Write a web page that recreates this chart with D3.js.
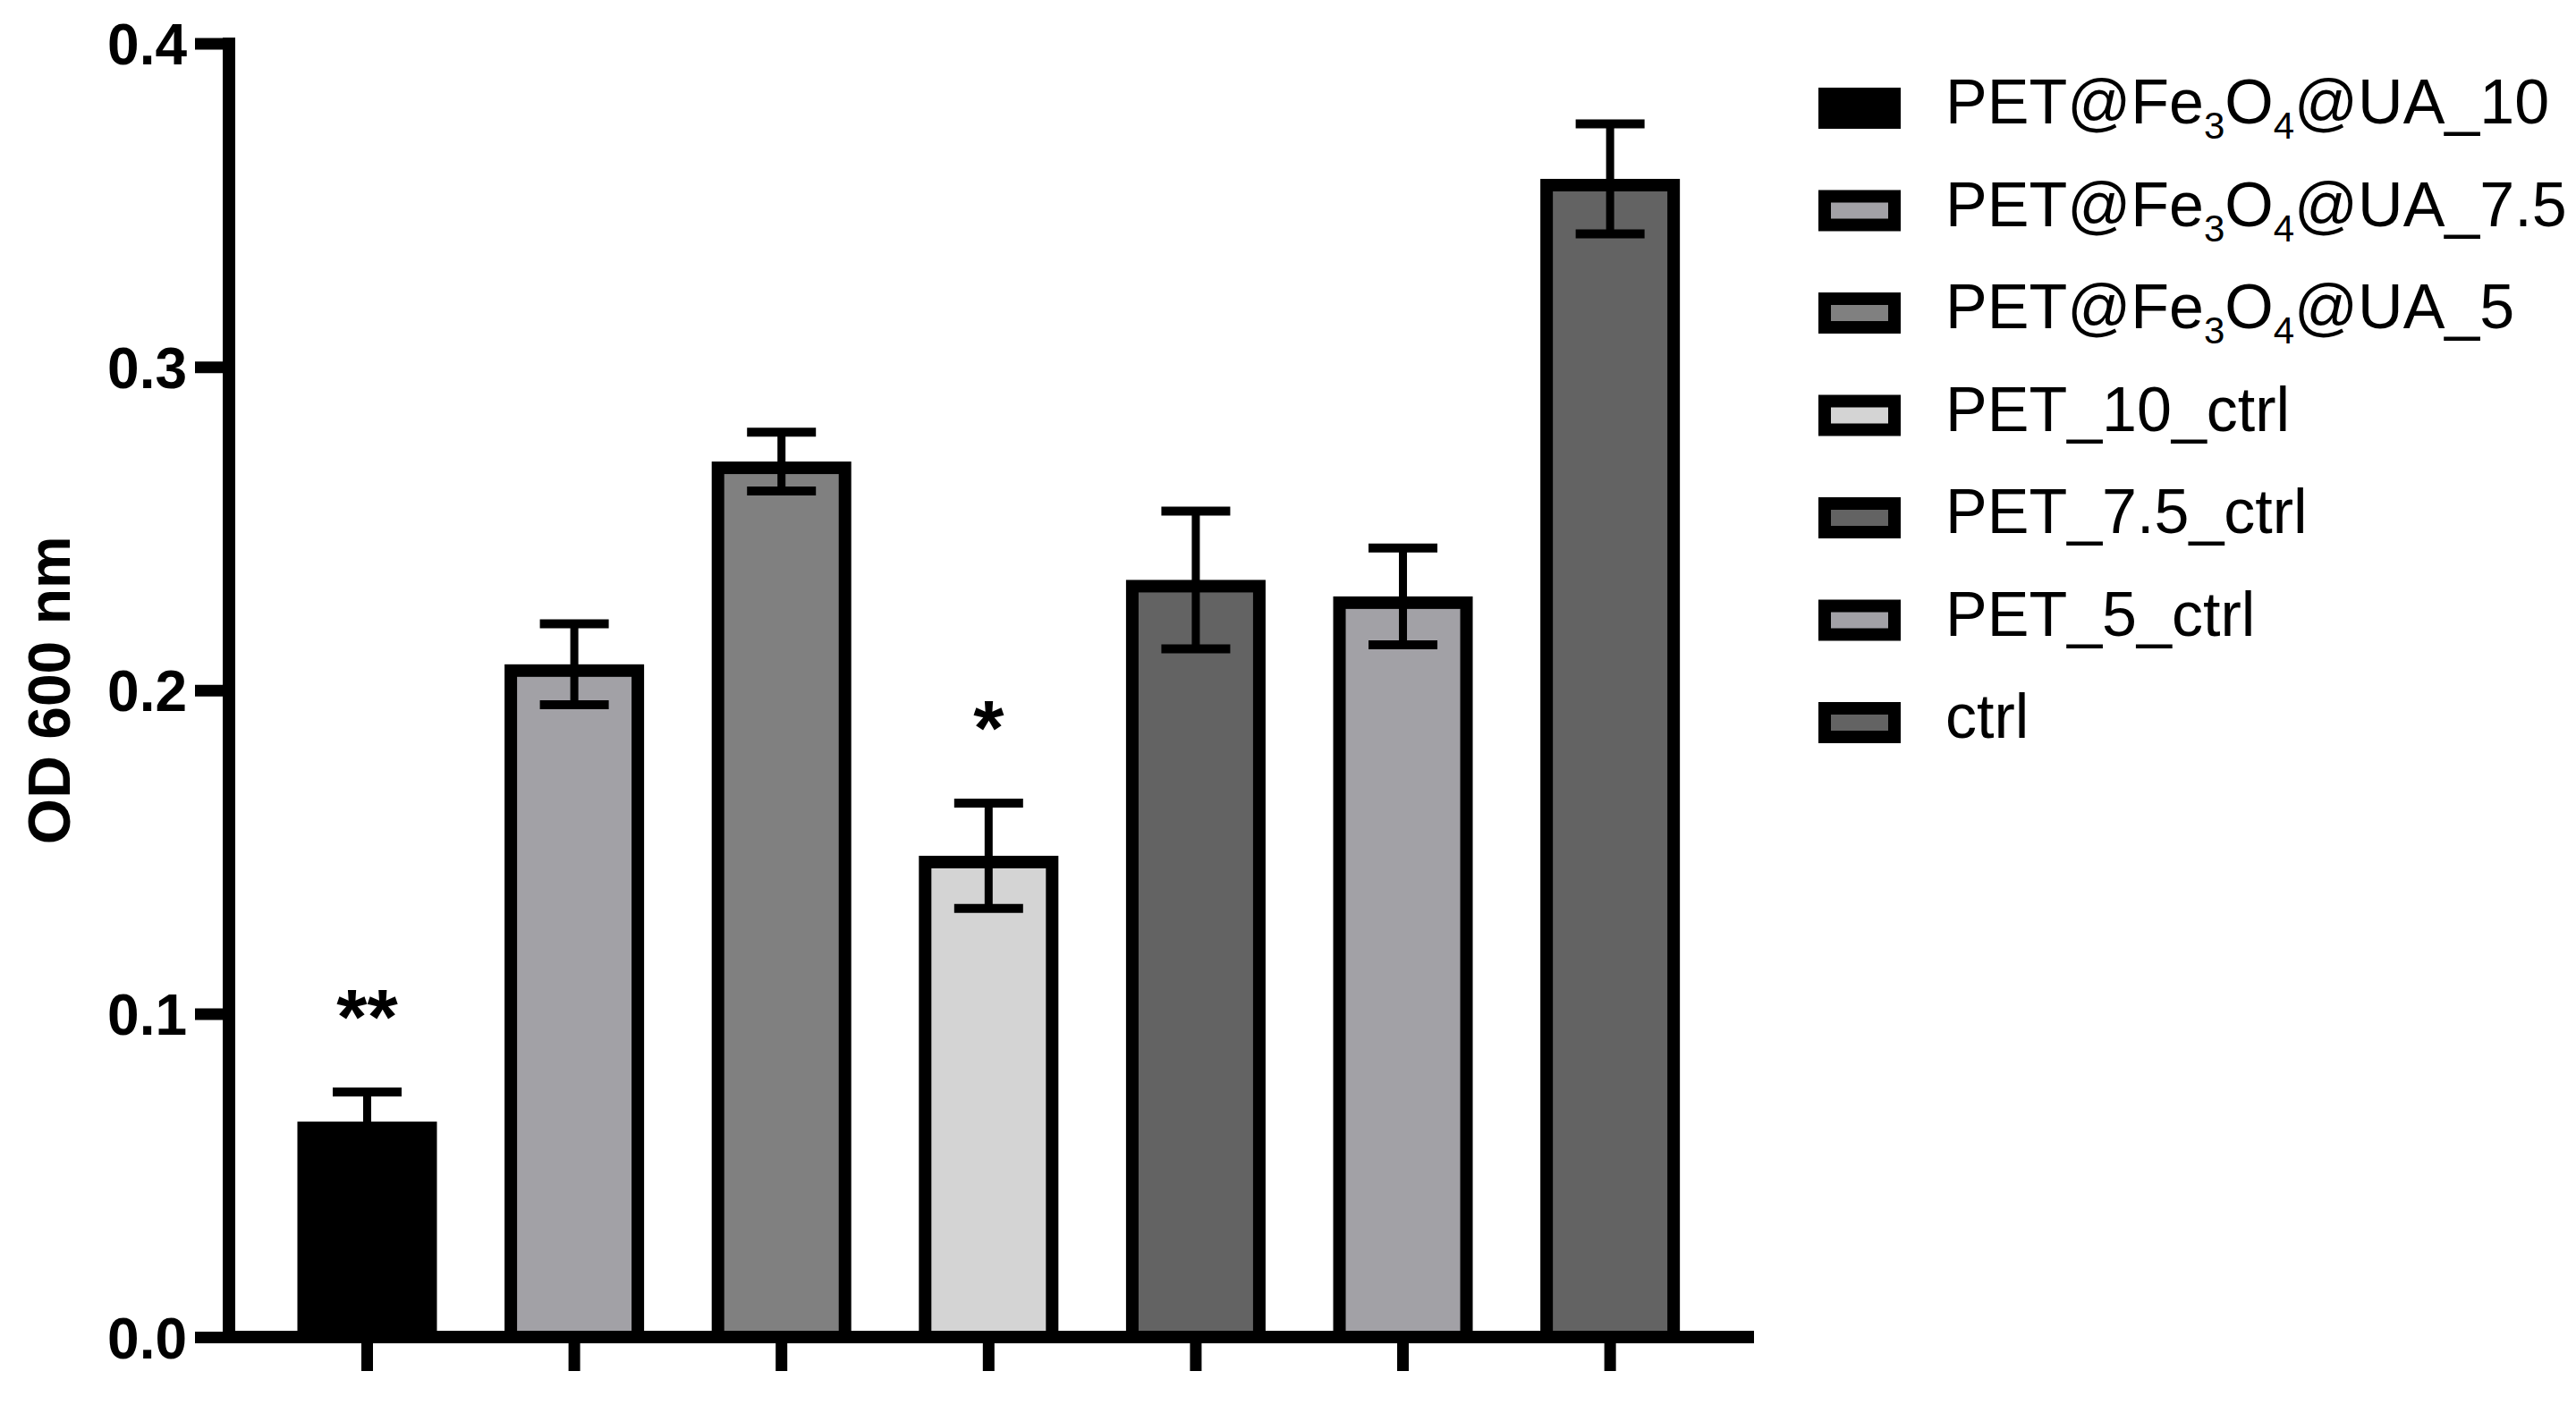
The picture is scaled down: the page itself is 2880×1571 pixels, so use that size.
<!DOCTYPE html>
<html>
<head>
<meta charset="utf-8">
<script src="https://cdn.jsdelivr.net/npm/d3@7"></script>
<style>
  html, body { margin: 0; padding: 0; background: #ffffff; }
  svg { display: block; }
</style>
</head>
<body>
<script>
// ---- data ----
const categories = ["PET@Fe_{3}O_{4}@UA_10", "PET@Fe_{3}O_{4}@UA_7.5", "PET@Fe_{3}O_{4}@UA_5",
                    "PET_10_ctrl", "PET_7.5_ctrl", "PET_5_ctrl", "ctrl"];
const means = [0.0666, 0.2080, 0.2707, 0.1488, 0.2341, 0.2290, 0.3581];
const sems  = [0.0092, 0.0125, 0.0091, 0.0163, 0.0213, 0.0150, 0.0170];
const fills = ["#000000", "#a2a1a6", "#808080", "#d4d4d4", "#636363", "#a2a1a6", "#636363"];
const significance = ["**", "", "", "*", "", "", ""];
const yTicks = [0, 0.1, 0.2, 0.3, 0.4];
const yTitle = "OD 600 nm";

// ---- layout ----
const W = 2880, H = 1571;
const FONT = "'Liberation Sans', Arial, Helvetica, sans-serif";

const svg = d3.select("body").append("svg")
  .attr("width", W).attr("height", H)
  .attr("viewBox", `0 0 ${W} ${H}`);

const x = d3.scaleBand()
  .domain(categories)
  .range([256, 1961])
  .paddingInner(0.3264)
  .paddingOuter(0.344)
  .align(0.48);

const y = d3.scaleLinear().domain([0, 0.4]).range([1495, 48.5]);

const data = categories.map((c, i) => ({ c, m: means[i], s: sems[i], fill: fills[i], sig: significance[i] }));

const SW = 14; // outline width

// bars
svg.append("g").selectAll("rect")
  .data(data).join("rect")
  .attr("x", d => x(d.c) + SW / 2)
  .attr("y", d => y(d.m) + SW / 2)
  .attr("width", x.bandwidth() - SW)
  .attr("height", d => y(0) - y(d.m) - SW / 2)
  .attr("fill", d => d.fill)
  .attr("stroke", "#000")
  .attr("stroke-width", SW);

// error bars
const eb = svg.append("g").attr("stroke", "#000");
const capW = 77;
eb.selectAll("line.stem").data(data).join("line")
  .attr("class", "stem")
  .attr("x1", d => x(d.c) + x.bandwidth() / 2)
  .attr("x2", d => x(d.c) + x.bandwidth() / 2)
  .attr("y1", d => y(d.m - d.s))
  .attr("y2", d => y(d.m + d.s))
  .attr("stroke-width", 9);
eb.selectAll("line.capTop").data(data).join("line")
  .attr("class", "capTop")
  .attr("x1", d => x(d.c) + x.bandwidth() / 2 - capW / 2)
  .attr("x2", d => x(d.c) + x.bandwidth() / 2 + capW / 2)
  .attr("y1", d => y(d.m + d.s))
  .attr("y2", d => y(d.m + d.s))
  .attr("stroke-width", 10);
eb.selectAll("line.capBot").data(data).join("line")
  .attr("class", "capBot")
  .attr("x1", d => x(d.c) + x.bandwidth() / 2 - capW / 2)
  .attr("x2", d => x(d.c) + x.bandwidth() / 2 + capW / 2)
  .attr("y1", d => y(d.m - d.s))
  .attr("y2", d => y(d.m - d.s))
  .attr("stroke-width", 10);

// significance stars
svg.append("g").selectAll("text")
  .data(data.filter(d => d.sig)).join("text")
  .attr("x", d => x(d.c) + x.bandwidth() / 2)
  .attr("y", d => y(d.m + d.s) - 90 + 36)
  .attr("text-anchor", "middle")
  .attr("font-family", FONT)
  .attr("font-weight", "bold")
  .attr("font-size", 88)
  .attr("fill", "#000")
  .text(d => d.sig);

// y axis
const yAxis = d3.axisLeft(y).tickValues(yTicks).tickFormat(d3.format(".1f"))
  .tickSize(38).tickSizeOuter(0).tickPadding(9);
const gy = svg.append("g").attr("transform", `translate(256,0)`).call(yAxis);
gy.select(".domain").remove();
gy.selectAll(".tick line").attr("stroke", "#000").attr("stroke-width", 13);
gy.selectAll(".tick text")
  .attr("font-family", FONT).attr("font-weight", "bold").attr("font-size", 64)
  .attr("fill", "#000").attr("dy", "0.36em");

// x axis
const xAxis = d3.axisBottom(x).tickSize(38).tickSizeOuter(0).tickFormat("");
const gx = svg.append("g").attr("transform", `translate(0,${y(0)})`).call(xAxis);
gx.select(".domain").remove();
gx.selectAll(".tick line").attr("stroke", "#000").attr("stroke-width", 13);
gx.selectAll(".tick text").remove();

// axis lines
svg.append("line")
  .attr("x1", 256).attr("x2", 256)
  .attr("y1", y(0.4) - 6.5).attr("y2", y(0) + 7)
  .attr("stroke", "#000").attr("stroke-width", 14);
svg.append("line")
  .attr("x1", 249).attr("x2", x.range()[1])
  .attr("y1", y(0)).attr("y2", y(0))
  .attr("stroke", "#000").attr("stroke-width", 14);

// y title
svg.append("text")
  .attr("transform", `translate(78,${y(0.2)}) rotate(-90)`)
  .attr("text-anchor", "middle")
  .attr("font-family", FONT).attr("font-weight", "bold").attr("font-size", 66)
  .attr("fill", "#000")
  .text(yTitle);

// legend
const legend = svg.append("g");
const rowY = i => 121 + i * 114.5;
legend.selectAll("rect").data(data).join("rect")
  .attr("x", 2033 + SW / 2)
  .attr("y", (d, i) => rowY(i) - 23 + SW / 2)
  .attr("width", 92 - SW)
  .attr("height", 46 - SW)
  .attr("fill", d => d.fill)
  .attr("stroke", "#000")
  .attr("stroke-width", SW);

const SUB_DY = 17;
function renderLabel(sel, label) {
  const parts = label.split(/(_\{\d+\})/).filter(p => p.length);
  let pendingUp = false;
  parts.forEach(p => {
    const m = p.match(/^_\{(\d+)\}$/);
    if (m) {
      sel.append("tspan").attr("font-size", 42)
        .attr("dy", pendingUp ? 0 : SUB_DY).text(m[1]);
      pendingUp = true;
    } else {
      sel.append("tspan").attr("dy", pendingUp ? -SUB_DY : 0).text(p);
      pendingUp = false;
    }
  });
}
legend.selectAll("text").data(data).join("text")
  .attr("x", 2175)
  .attr("y", (d, i) => rowY(i) + 17)
  .attr("font-family", FONT).attr("font-size", 70)
  .attr("fill", "#000")
  .each(function(d) { renderLabel(d3.select(this), d.c); });
</script>
</body>
</html>
